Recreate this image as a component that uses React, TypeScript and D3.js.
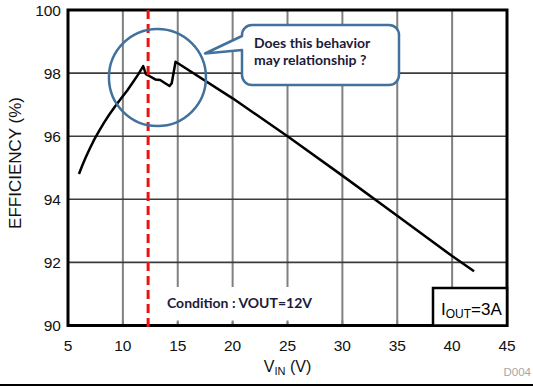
import React from 'react';
import * as d3 from 'd3';

// efficiency curve (VIN in V, efficiency in %)
const vin = [6.0, 6.3, 6.6, 7.0, 7.4, 7.85, 8.3, 8.75, 9.3, 9.85, 10.4, 10.9, 11.4, 11.85, 12.1, 12.45, 12.95, 13.4, 13.85, 14.25, 14.45, 14.8, 20, 25, 30, 35, 40, 42];
const eff = [94.8, 95.07, 95.32, 95.62, 95.9, 96.18, 96.44, 96.68, 96.95, 97.2, 97.45, 97.7, 97.96, 98.22, 97.97, 97.9, 97.8, 97.78, 97.68, 97.59, 97.68, 98.36, 97.2, 96.0, 94.75, 93.48, 92.2, 91.72];

const xTicks = [5, 10, 15, 20, 25, 30, 35, 40, 45];
const yTicks = [90, 92, 94, 96, 98, 100];
const markerVin = 12.3;
const circleAt = [13.15, 97.86];

const width = 533;
const height = 387;
const margin = { top: 10, right: 26, bottom: 61.5, left: 68 };

const App = () => {
    const x = d3.scaleLinear().domain([5, 45]).range([margin.left, width - margin.right]);
    const y = d3.scaleLinear().domain([90, 100]).range([height - margin.bottom, margin.top]);

    const pts = vin.map((v, i) => [v, eff[i]] as [number, number]);
    const line = d3.line<[number, number]>()
        .x(d => x(d[0]))
        .y(d => y(d[1]));

    const x0 = x(5), x1 = x(45), y0 = y(100), y1 = y(90);
    const axisFont = "'Liberation Sans', Arial, sans-serif";
    const noteFont = "Lato, 'Open Sans', sans-serif";
    const blue = '#41719c';

    // callout box
    const bx0 = 242, by0 = 25, bx1 = 399, by1 = 85, r = 10;
    const callout = `M${bx0 + r},${by0} H${bx1 - r} A${r},${r} 0 0 1 ${bx1},${by0 + r} V${by1 - r} A${r},${r} 0 0 1 ${bx1 - r},${by1} H${bx0 + r} A${r},${r} 0 0 1 ${bx0},${by1 - r} V50 L205,53.5 L${bx0},36 V${by0 + r} A${r},${r} 0 0 1 ${bx0 + r},${by0} Z`;

    return (
        <svg width={width} height={height} style={{ position: 'absolute', left: 0, top: 0, background: '#fff' }}>
            <rect x={0} y={0} width={width} height={height} fill="#fff" />

            {/* grid */}
            <g>
                {xTicks.slice(1, -1).map(t => (
                    <line key={'gx' + t} x1={x(t)} x2={x(t)} y1={y0} y2={y1} stroke="#808080" strokeWidth={2} />
                ))}
                {yTicks.slice(1, -1).map(t => (
                    <line key={'gy' + t} x1={x0} x2={x1} y1={y(t)} y2={y(t)} stroke="#3c3c3c" strokeWidth={1.6} />
                ))}
            </g>

            {/* white patch behind condition text */}
            <rect x={158} y={287} width={174} height={35} fill="#fff" />
            {xTicks.slice(1, -1).map(t => (
                <line key={'tk' + t} x1={x(t)} x2={x(t)} y1={y1} y2={y1 - 5} stroke="#808080" strokeWidth={2} />
            ))}

            {/* frame */}
            <rect x={x0} y={y0} width={x1 - x0} height={y1 - y0} fill="none" stroke="#000" strokeWidth={3} />

            {/* curve */}
            <path d={line(pts) || ''} fill="none" stroke="#000" strokeWidth={2.5} strokeLinejoin="round" />

            {/* marker at VIN = 12.3 V */}
            <line x1={x(markerVin)} x2={x(markerVin)} y1={y0} y2={y1 + 3} stroke="#ee1111" strokeWidth={3} strokeDasharray="9,5" />

            <circle cx={x(circleAt[0])} cy={y(circleAt[1])} r={48.5} fill="none" stroke={blue} strokeWidth={2.5} />

            <path d={callout} fill="#fff" stroke={blue} strokeWidth={2.5} strokeLinejoin="round" />
            <text x={254} y={48} fontFamily={noteFont} fontWeight="bold" fontSize={14} fill="#1b1b3a">Does this behavior</text>
            <text x={254} y={65} fontFamily={noteFont} fontWeight="bold" fontSize={14} fill="#1b1b3a">may relationship ?</text>

            <text x={167} y={308} fontFamily={noteFont} fontWeight="bold" fontSize={14} fill="#1b1b3a">Condition : VOUT=12V</text>

            {/* IOUT box */}
            <rect x={433} y={288} width={x1 - 433} height={y1 - 288} fill="#fff" stroke="#000" strokeWidth={2.5} />
            <text x={441} y={315} fontFamily={axisFont} fontSize={17} fill="#000">
                I<tspan fontSize={12} dy={3}>OUT</tspan><tspan dy={-3}>=3A</tspan>
            </text>

            {/* tick labels */}
            {yTicks.map(t => (
                <text key={'yl' + t} x={61} y={y(t)} dy="0.36em" textAnchor="end" fontFamily={axisFont} fontSize={15.5} fill="#111">{t}</text>
            ))}
            {xTicks.map(t => (
                <text key={'xl' + t} x={x(t)} y={351} textAnchor="middle" fontFamily={axisFont} fontSize={15.5} fill="#111">{t}</text>
            ))}

            {/* axis titles */}
            <text x={(x0 + x1) / 2} y={372} textAnchor="middle" fontFamily={axisFont} fontSize={16} fill="#111">
                V<tspan fontSize={11} dy={3}>IN</tspan><tspan dy={-3}> (V)</tspan>
            </text>
            <text transform={`translate(21,163) rotate(-90)`} textAnchor="middle" fontFamily={axisFont} fontSize={17} fill="#111">EFFICIENCY (%)</text>

            <text x={531} y={376} textAnchor="end" fontFamily={axisFont} fontSize={11.5} fill="#a6a6a6">D004</text>

            <line x1={0} x2={width} y1={385} y2={385} stroke="#000" strokeWidth={2} />
        </svg>
    );
};

export default App;
